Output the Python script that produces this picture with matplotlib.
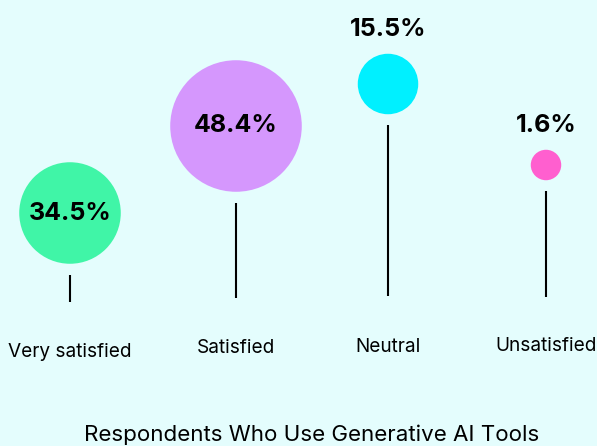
import numpy as np
import matplotlib
matplotlib.use("Agg")
import matplotlib.pyplot as plt
from matplotlib.patches import Circle

# data
categories = ["Very satisfied", "Satisfied", "Neutral", "Unsatisfied"]
values = [34.5, 48.4, 15.5, 1.6]
colors = ["#40f5a7", "#d597fd", "#00f0ff", "#ff5fcf"]
title = "Respondents Who Use Generative AI Tools"

# layout (pixel space of the 597x446 canvas)
x_pos = [70, 236, 388, 546]
bubble_y = [213, 126, 84, 165]
stem_end = [302, 298, 296, 297]
label_y = [352, 348, 347, 346]

bg = "#e4fdfd"
plt.rcParams["font.family"] = ["Inter", "DejaVu Sans"]

fig = plt.figure(figsize=(5.97, 4.46), dpi=100, facecolor=bg)
ax = fig.add_axes([0, 0, 1, 1])
ax.set_facecolor(bg)
ax.set_xlim(0, 597)
ax.set_ylim(446, 0)
ax.set_aspect("equal")
ax.axis("off")


def radius(v):
    # bubble size grows with the share
    return 13.5 + 1.08 * v


for i, cat in enumerate(categories):
    r = radius(values[i])
    x, y = x_pos[i], bubble_y[i]
    ax.add_patch(Circle((x, y), r, facecolor=colors[i], edgecolor="none"))
    ax.plot([x, x], [y + r + 11, stem_end[i]], color="black", lw=1.5,
            solid_capstyle="butt")
    txt = f"{values[i]}%"
    if r > 40:
        ax.text(x, y, txt, ha="center", va="center", fontsize=18,
                fontweight="bold")
    else:
        ax.text(x, y - r - 24, txt, ha="center", va="center", fontsize=18,
                fontweight="bold")
    ax.text(x, label_y[i], cat, ha="center", va="center", fontsize=13.7)

ax.text(312, 435, title, ha="center", va="center", fontsize=16.1)

fig.savefig("out.png", dpi=100, facecolor=bg)
